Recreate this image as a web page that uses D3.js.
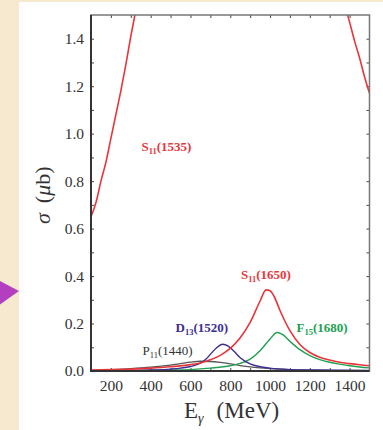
<!DOCTYPE html>
<html><head><meta charset="utf-8">
<script src="https://cdn.jsdelivr.net/npm/d3@7/dist/d3.min.js"></script>
<style>
html,body{margin:0;padding:0;background:#f7e9cf;}
svg{display:block;}
</style></head>
<body>
<svg id="c" width="383" height="430"></svg>
<script>
// ---------- data ----------
const xTicksLabeled = [200, 400, 600, 800, 1000, 1200, 1400];
const yTicksLabeled = [0.0, 0.2, 0.4, 0.6, 0.8, 1.0, 1.2, 1.4];

// S11(1535): only the wings are visible (peak is off the chart); null = not visible
const s1535E = [100, 125, 150, 175, 200, 225, 250, 275, 300, 325, 335, 840, 1370, 1380, 1400, 1425, 1450, 1475, 1500];
const s1535V = [0.65, 0.71, 0.80, 0.88, 0.98, 1.08, 1.18, 1.29, 1.41, 1.52, 1.57, null, 1.56, 1.53, 1.47, 1.39, 1.32, 1.24, 1.17];

const s1650E = [100, 200, 300, 400, 500, 600, 650, 700, 750, 800, 850, 900, 950, 980, 1000, 1020, 1050, 1100, 1150, 1200, 1250, 1300, 1350, 1400, 1450, 1500];
const s1650V = [0.004, 0.006, 0.008, 0.012, 0.018, 0.027, 0.034, 0.047, 0.066, 0.095, 0.14, 0.205, 0.295, 0.342, 0.338, 0.315, 0.255, 0.17, 0.112, 0.078, 0.058, 0.046, 0.037, 0.031, 0.026, 0.022];

const f1680E = [100, 300, 500, 600, 700, 800, 850, 900, 950, 1000, 1035, 1060, 1100, 1150, 1200, 1250, 1300, 1350, 1400, 1450, 1500];
const f1680V = [0.001, 0.002, 0.004, 0.006, 0.012, 0.022, 0.032, 0.05, 0.085, 0.135, 0.162, 0.155, 0.125, 0.09, 0.065, 0.048, 0.037, 0.029, 0.022, 0.017, 0.013];

const d1520E = [100, 300, 400, 500, 550, 600, 650, 680, 700, 730, 762, 790, 820, 850, 900, 950, 1000, 1100, 1200, 1300, 1500];
const d1520V = [0.0, 0.002, 0.004, 0.008, 0.012, 0.019, 0.033, 0.052, 0.07, 0.097, 0.113, 0.105, 0.082, 0.056, 0.03, 0.018, 0.012, 0.006, 0.004, 0.003, 0.002];

const p1440E = [100, 200, 300, 400, 500, 550, 600, 650, 700, 750, 800, 850, 900, 950, 1000, 1100, 1200, 1300, 1500];
const p1440V = [0.003, 0.006, 0.01, 0.016, 0.025, 0.031, 0.037, 0.041, 0.04, 0.036, 0.03, 0.023, 0.017, 0.013, 0.01, 0.006, 0.004, 0.003, 0.002];

const seriesNames = ["S11(1535)", "S11(1650)", "F15(1680)", "D13(1520)", "P11(1440)"];

// ---------- layout ----------
const svg = d3.select("#c");
const L = 91, R = 369.5, T = 15, B = 371;

// backdrop: magenta arrow tip and white panel
svg.append("rect").attr("x", 0).attr("y", 0).attr("width", 383).attr("height", 430).attr("fill", "#f7e9cf");
svg.append("rect").attr("x", 19).attr("y", 2).attr("width", 364).attr("height", 428).attr("fill", "#ffffff");
svg.append("path").attr("d", "M-2,280 L19,291 L-2,306 Z").attr("fill", "#b33ec0");

const x = d3.scaleLinear().domain([100, 1500]).range([L, R]);
const y = d3.scaleLinear().domain([0, 1.5]).range([B, T]);

svg.append("clipPath").attr("id", "clip")
  .append("rect").attr("x", L).attr("y", T).attr("width", R - L).attr("height", B - T);

const serif = "'Liberation Serif','Times New Roman',serif";

// ticks (inward, all four sides)
const xMinor = d3.range(200, 1500, 100);
const yMinor = d3.range(1, 15).map(d => d / 10);

const gxB = svg.append("g").attr("transform", `translate(0,${B})`)
  .call(d3.axisBottom(x).tickValues(xMinor).tickSizeInner(-3).tickSizeOuter(0).tickPadding(9)
    .tickFormat(d => xTicksLabeled.includes(d) ? d : ""));
const gxT = svg.append("g").attr("transform", `translate(0,${T})`)
  .call(d3.axisTop(x).tickValues(xMinor).tickSizeInner(-3).tickSizeOuter(0).tickFormat(""));
const gyL = svg.append("g").attr("transform", `translate(${L},0)`)
  .call(d3.axisLeft(y).tickValues([0].concat(yMinor)).tickSizeInner(-3).tickSizeOuter(0).tickPadding(7)
    .tickFormat(d => yTicksLabeled.some(v => Math.abs(v - d) < 1e-9) ? d3.format(".1f")(d) : ""));
const gyR = svg.append("g").attr("transform", `translate(${R},0)`)
  .call(d3.axisRight(y).tickValues(yMinor).tickSizeInner(-3).tickSizeOuter(0).tickFormat(""));

[gxB, gxT, gyL, gyR].forEach(g => {
  g.select(".domain").remove();
  g.selectAll(".tick line").attr("stroke", "#555").attr("stroke-width", 1.1);
  g.selectAll(".tick text").attr("font-family", serif).attr("font-size", 15.5).attr("fill", "#333");
});

// curves
const colors = { s1535: "#e8353a", s1650: "#e8353a", f1680: "#22a052", d1520: "#3b2f90", p1440: "#555555" };
function drawLine(E, V, col, w) {
  const pts = E.map((e, i) => ({ e, v: V[i] }));
  const line = d3.line().defined(d => d.v !== null)
    .x(d => x(d.e)).y(d => y(d.v)).curve(d3.curveMonotoneX);
  svg.append("path").datum(pts).attr("clip-path", "url(#clip)")
    .attr("d", line).attr("fill", "none").attr("stroke", col).attr("stroke-width", w);
}
drawLine(p1440E, p1440V, colors.p1440, 1.3);
drawLine(f1680E, f1680V, colors.f1680, 1.4);
drawLine(d1520E, d1520V, colors.d1520, 1.4);
drawLine(s1650E, s1650V, colors.s1650, 1.6);
drawLine(s1535E, s1535V, colors.s1535, 1.6);

// frame
svg.append("rect").attr("x", L).attr("y", T).attr("width", R - L).attr("height", B - T)
  .attr("fill", "none").attr("stroke", "#777").attr("stroke-width", 1.5);
svg.append("path").attr("d", `M${L},${T} V${B} H${R}`).attr("fill", "none").attr("stroke", "#333").attr("stroke-width", 2);

// curve labels
function label(name, sub, rest, px, py, col, weight) {
  const t = svg.append("text").attr("x", px).attr("y", py).attr("font-family", serif)
    .attr("font-size", 13).attr("font-weight", weight).attr("fill", col);
  t.append("tspan").text(name);
  t.append("tspan").attr("font-size", 8.5).attr("dy", 3).text(sub);
  t.append("tspan").attr("dy", -3).text(rest);
}
label("S", "11", "(1535)", 141.5, 151, colors.s1535, "bold");
label("S", "11", "(1650)", 241, 279, colors.s1650, "bold");
label("D", "13", "(1520)", 175.5, 332, colors.d1520, "bold");
label("F", "15", "(1680)", 296.5, 332, colors.f1680, "bold");
label("P", "11", "(1440)", 142.5, 355, "#333", "normal");

// axis titles
const xt = svg.append("text").attr("x", 184).attr("y", 418).attr("font-family", serif)
  .attr("font-size", 23).attr("fill", "#333");
xt.append("tspan").text("E");
xt.append("tspan").attr("font-size", 14).attr("dy", 5).attr("font-style", "italic").text("γ");
xt.append("tspan").attr("dy", -5).attr("dx", 13).text("(MeV)");

const yt = svg.append("text").attr("transform", "translate(50,224) rotate(-90)")
  .attr("font-family", serif).attr("font-size", 22).attr("fill", "#333");
yt.append("tspan").attr("font-style", "italic").text("σ");
yt.append("tspan").attr("dx", 10).text("(");
yt.append("tspan").attr("font-style", "italic").text("μ");
yt.append("tspan").text("b)");
</script>
</body></html>
